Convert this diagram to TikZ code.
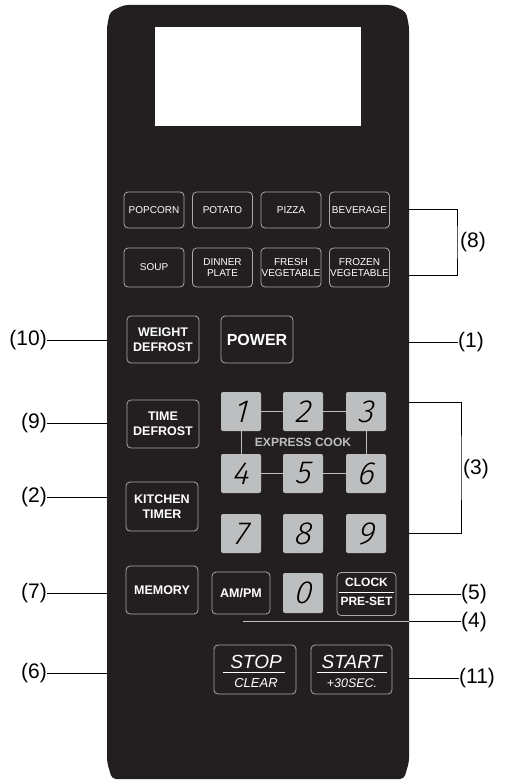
\documentclass[tikz,border=0pt]{standalone}
\usepackage{fontspec}
\setmainfont{Liberation Sans}
\newfontfamily\digitfont{Fira Sans Light Italic}[FakeSlant=0.12]
\usetikzlibrary{calc}
\definecolor{panel}{HTML}{231F20}
\definecolor{keygray}{HTML}{BCBEC0}
\definecolor{rim}{HTML}{A7A9AC}
\tikzset{
  btnbase/.style={draw=rim, line width=0.8pt, rounded corners=4pt, inner sep=0pt, text=white, align=center},
  foodbtn/.style={btnbase, minimum width=60pt, minimum height=37pt, font=\fontsize{10}{10.5}\selectfont},
  sidebtn/.style={btnbase, minimum width=72pt, minimum height=48pt, font=\bfseries\fontsize{12.5}{15}\selectfont},
  numkey/.style={fill=keygray, rounded corners=2pt, minimum width=40pt, minimum height=39pt, inner sep=0pt, font=\digitfont\fontsize{32}{32}\selectfont, text=black},
  keylink/.style={draw=keygray, line width=0.8pt},
  calltext/.style={font=\fontsize{21}{21}\selectfont, inner sep=0pt},
  leaderline/.style={line width=0.8pt, draw=black},
  wtext/.style={text=white, inner sep=0pt},
}
\begin{document}
\begin{tikzpicture}[x=1pt,y=-1pt]
\useasboundingbox (0,0) rectangle (504,781);
% panel
\path[fill=panel, rounded corners=4pt] (107,26) -- (110,12) -- (124,5) -- (392,5) -- (406,12) -- (409,26) -- (409,762) -- (404,779) -- (112,779) -- (107,762) -- cycle;
% display
\fill[white] (155,27) rectangle (361,126);
% food buttons
\node[foodbtn, minimum height=36pt] (popcorn) at (154,210) {POPCORN};
\node[foodbtn, minimum height=36pt] (potato) at (222.5,210) {POTATO};
\node[foodbtn, minimum height=36pt] (pizza) at (291,210) {PIZZA};
\node[foodbtn, minimum height=36pt] (beverage) at (359.5,210) {BEVERAGE};
\node[foodbtn, minimum height=39pt] (soup) at (154,267.5) {SOUP};
\node[foodbtn, minimum height=39pt] (dinner) at (222.5,267.5) {DINNER\\PLATE};
\node[foodbtn, minimum height=39pt] (fresh) at (291,267.5) {FRESH\\VEGETABLE};
\node[foodbtn, minimum height=39pt] (frozen) at (359.5,267.5) {FROZEN\\VEGETABLE};
% side buttons
\node[sidebtn, minimum height=47pt] (weight) at (163,339.5) {WEIGHT\\DEFROST};
\node[sidebtn, minimum height=47pt, font=\bfseries\fontsize{16}{16}\selectfont] (power) at (257,339.5) {POWER};
\node[sidebtn] (time) at (163,424) {TIME\\DEFROST};
\node[sidebtn, minimum height=49pt] (kitchen) at (162,506.5) {KITCHEN\\TIMER};
\node[sidebtn] (memory) at (162,590) {MEMORY};
% number keys
\node[numkey] (k1) at (241,411.5) {1};
\node[numkey] (k2) at (303,411.5) {2};
\node[numkey] (k3) at (366,411.5) {3};
\node[numkey] (k4) at (241,473.5) {4};
\node[numkey] (k5) at (303,473.5) {5};
\node[numkey] (k6) at (366,473.5) {6};
\node[numkey] (k7) at (241,533.5) {7};
\node[numkey] (k8) at (303,533.5) {8};
\node[numkey] (k9) at (366,533.5) {9};
\node[numkey, minimum height=40pt] (k0) at (303,593) {0};
\draw[keylink] (k1) -- (k2);
\draw[keylink] (k2) -- (k3);
\draw[keylink] (k4) -- (k5);
\draw[keylink] (k5) -- (k6);
\draw[keylink] (k1) -- (k4);
\draw[keylink] (k3) -- (k6);
\node[text=keygray, inner sep=0pt, font=\bfseries\fontsize{12}{12}\selectfont] (express) at (303,442.5) {EXPRESS COOK};
% AM/PM and clock
\node[sidebtn, minimum width=58pt, minimum height=42pt] (ampm) at (241,593) {AM/PM};
\node[sidebtn, minimum width=59pt, minimum height=43pt] (clock) at (366.5,594) {};
\node[wtext, font=\bfseries\fontsize{12}{12}\selectfont] (clocktxt) at (366.5,582.5) {CLOCK};
\node[wtext, font=\bfseries\fontsize{12}{12}\selectfont] (presettxt) at (366.5,601.5) {PRE-SET};
\draw[white, line width=1pt] ($(clock.west)+(2,-2)$) -- ($(clock.east)+(-2,-2)$);
% stop / start
\node[btnbase, minimum width=82pt, minimum height=49pt] (stop) at (255,669.5) {};
\node[wtext, font=\itshape\fontsize{19}{19}\selectfont] (stoptxt) at (256,661.5) {STOP};
\node[wtext, font=\itshape\fontsize{13}{13}\selectfont] (cleartxt) at (256,683) {CLEAR};
\draw[white, line width=1pt] ($(stop.west)+(9,2.5)$) -- ($(stop.east)+(-11,2.5)$);
\node[btnbase, minimum width=81pt, minimum height=49pt] (start) at (351.5,669.5) {};
\node[wtext, font=\itshape\fontsize{19}{19}\selectfont] (starttxt) at (352,661.5) {START};
\node[wtext, font=\itshape\fontsize{12.5}{12.5}\selectfont] (plustxt) at (352,683) {+30SEC.};
\draw[white, line width=1pt] ($(start.west)+(6,2.5)$) -- ($(start.east)+(-5,2.5)$);
% left callouts
\node[calltext, anchor=east] (l10) at (47,340) {(10)};
\node[calltext, anchor=east] (l9) at (47,423) {(9)};
\node[calltext, anchor=east] (l2) at (47,497) {(2)};
\node[calltext, anchor=east] (l7) at (47,593) {(7)};
\node[calltext, anchor=east] (l6) at (47,673) {(6)};
\coordinate (e10) at (107,340);
\coordinate (e9) at (107,423);
\coordinate (e2) at (107,497);
\coordinate (e7) at (107,593);
\coordinate (e6) at (107,673);
\draw[leaderline] (l10.east) -- (e10);
\draw[leaderline] (l9.east) -- (e9);
\draw[leaderline] (l2.east) -- (e2);
\draw[leaderline] (l7.east) -- (e7);
\draw[leaderline] (l6.east) -- (e6);
% right callouts
\coordinate (b8) at (457,242);
\coordinate (e8t) at (409,209);
\coordinate (e8b) at (409,275);
\node[calltext, anchor=west] (l8) at (460,242) {(8)};
\draw[leaderline] (e8t) -| (b8) |- (e8b);
\coordinate (e1) at (409,342);
\node[calltext, anchor=west] (l1) at (458,342) {(1)};
\draw[leaderline] (e1) -- (l1.west);
\coordinate (b3) at (461,467.5);
\coordinate (e3t) at (409,402);
\coordinate (e3b) at (409,533);
\node[calltext, anchor=west] (l3) at (463,469) {(3)};
\draw[leaderline] (e3t) -| (b3) |- (e3b);
\coordinate (e5) at (409,594);
\node[calltext, anchor=west] (l5) at (461,594) {(5)};
\draw[leaderline] (e5) -- (l5.west);
\coordinate (p4) at (243,621);
\coordinate (e4) at (409,621);
\node[calltext, anchor=west] (l4) at (461,622) {(4)};
\draw[line width=0.8pt, draw=keygray] (p4) -- (e4);
\draw[leaderline] (e4) -- (l4.west |- e4);
\coordinate (e11) at (409,678);
\node[calltext, anchor=west] (l11) at (459,678) {(11)};
\draw[leaderline] (e11) -- (l11.west);
\end{tikzpicture}
\end{document}
